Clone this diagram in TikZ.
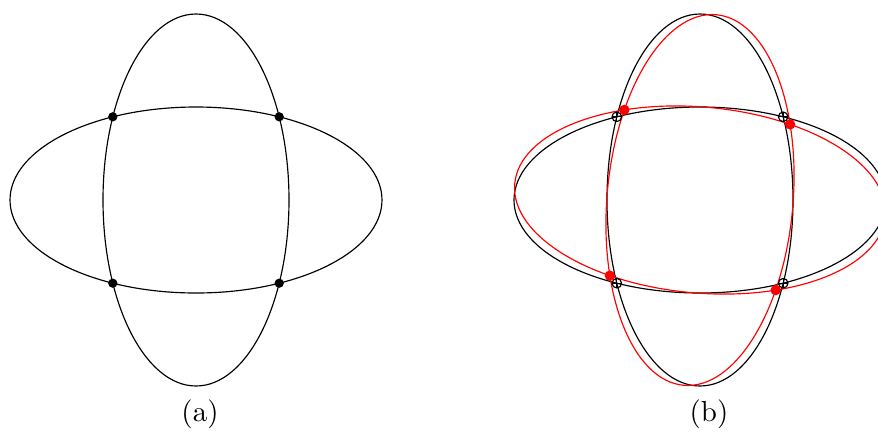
\documentclass[tikz,border=0pt]{standalone}
\begin{document}
\begin{tikzpicture}[x=0.3448pt,y=0.3448pt,
  curve/.style={line width=0.4pt},
  bdot/.style={circle,fill=black,inner sep=0pt,minimum size=3.2pt},
  rdot/.style={circle,fill=red,inner sep=0pt,minimum size=3.6pt},
  odot/.style={circle,draw=black,line width=0.4pt,inner sep=0pt,minimum size=3.3pt,
    path picture={\draw[line width=0.35pt] (path picture bounding box.north) -- (path picture bounding box.south)
      (path picture bounding box.west) -- (path picture bounding box.east);}},
  lbl/.style={inner sep=0pt}]
\useasboundingbox (0,0) rectangle (878,434);
% (a)
\begin{scope}[shift={(196,234)}]
  \draw[curve] (0,0) ellipse [x radius={186*0.3448pt}, y radius={93*0.3448pt}];
  \draw[curve] (0,0) ellipse [x radius={93*0.3448pt}, y radius={186*0.3448pt}];
  \node[bdot] (a1) at (83.2,83.2) {};
  \node[bdot] (a2) at (-83.2,83.2) {};
  \node[bdot] (a3) at (-83.2,-83.2) {};
  \node[bdot] (a4) at (83.2,-83.2) {};
\end{scope}
\node[lbl] (la) at (200,20) {(a)};
% (b)
\begin{scope}
  \clip (500,0) rectangle (878,434);
  \begin{scope}[shift={(700,234)}]
    \draw[curve] (0,0) ellipse [x radius={186*0.3448pt}, y radius={93*0.3448pt}];
    \draw[curve] (0,0) ellipse [x radius={93*0.3448pt}, y radius={186*0.3448pt}];
  \end{scope}
  \begin{scope}[shift={(700,234)},rotate=-5]
    \draw[curve,red] (0,0) ellipse [x radius={186*0.3448pt}, y radius={93*0.3448pt}];
    \draw[curve,red] (0,0) ellipse [x radius={93*0.3448pt}, y radius={186*0.3448pt}];
  \end{scope}
\end{scope}
\begin{scope}[shift={(700,234)}]
  \node[odot] (b1) at (83.2,83.2) {};
  \node[odot] (b2) at (-83.2,83.2) {};
  \node[odot] (b3) at (-83.2,-83.2) {};
  \node[odot] (b4) at (83.2,-83.2) {};
\end{scope}
\begin{scope}[shift={(700,234)},rotate=-5]
  \node[rdot] (r1) at (83.2,83.2) {};
  \node[rdot] (r2) at (-83.2,83.2) {};
  \node[rdot] (r3) at (-83.2,-83.2) {};
  \node[rdot] (r4) at (83.2,-83.2) {};
\end{scope}
\node[lbl] (lb) at (709,20) {(b)};
\end{tikzpicture}
\end{document}
